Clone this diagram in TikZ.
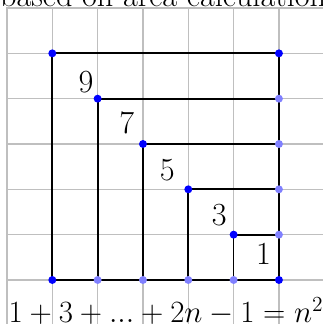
\documentclass[tikz,border=0pt]{standalone}
\begin{document}
\begin{tikzpicture}[x=1cm,y=1cm,
  gridline/.style={draw=black!25, line width=0.8pt},
  sq/.style={draw=black, line width=1.1pt},
  dk/.style={circle, fill=blue, inner sep=0pt, minimum size=5pt},
  lt/.style={circle, fill=blue!50, inner sep=0pt, minimum size=5pt},
  lab/.style={inner sep=0pt, font=\fontsize{18}{20}\selectfont, scale=1.124, transform shape}]
\useasboundingbox (-0.154,-0.971) rectangle (6.971,6.177);
\clip (-0.154,-0.971) rectangle (6.971,6.177);
\draw[gridline] (0,-1.5) grid (6.99,6);
\draw[gridline] (0,-1.5) -- (0,6) -- (7.5,6);
% squares
\draw[sq] (1,0) rectangle (6,5);
\draw[sq] (2,0) rectangle (6,4);
\draw[sq] (3,0) rectangle (6,3);
\draw[sq] (4,0) rectangle (6,2);
\draw[sq] (5,0) rectangle (6,1);
% dots
\node[dk] (a5) at (1,5) {};
\node[dk] (b5) at (6,5) {};
\node[dk] (a4) at (2,4) {};
\node[lt] (b4) at (6,4) {};
\node[dk] (a3) at (3,3) {};
\node[lt] (b3) at (6,3) {};
\node[dk] (a2) at (4,2) {};
\node[lt] (b2) at (6,2) {};
\node[dk] (a1) at (5,1) {};
\node[lt] (b1) at (6,1) {};
\node[dk] (c1) at (1,0) {};
\node[lt] (c2) at (2,0) {};
\node[lt] (c3) at (3,0) {};
\node[lt] (c4) at (4,0) {};
\node[lt] (c5) at (5,0) {};
\node[dk] (c6) at (6,0) {};
% labels
\node[lab] (l9) at (1.743,4.367) {9};
\node[lab] (l7) at (2.642,3.462) {7};
\node[lab] (l5) at (3.538,2.418) {5};
\node[lab] (l3) at (4.681,1.429) {3};
\node[lab] (l1) at (5.659,0.567) {1};
% texts
\node[lab, anchor=base] (formula) at (3.51,-0.945) {$1+3+...+2n-1=n^2$};
\node[lab, anchor=base west] (title) at (-0.16,6.044) {based on area calculation};
\end{tikzpicture}
\end{document}
